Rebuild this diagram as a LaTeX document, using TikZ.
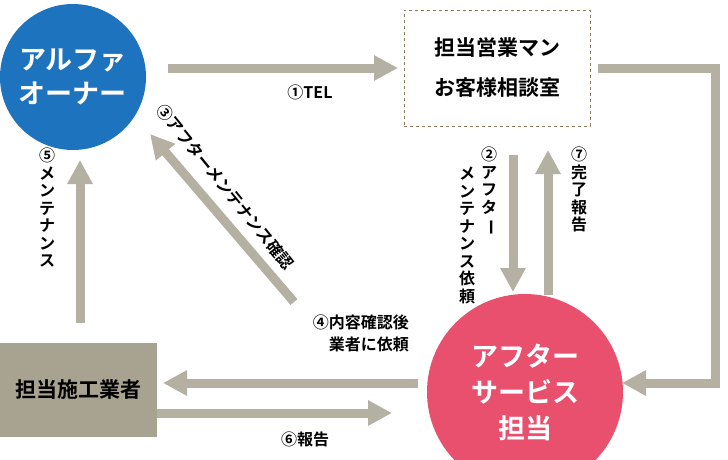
\documentclass[tikz,border=0pt]{standalone}
\usepackage{fontspec}
\newfontfamily\jp{Noto Sans CJK JP}[BoldFont={* Bold}]
\usetikzlibrary{arrows.meta,positioning}
\definecolor{arrgrey}{HTML}{B4B0A2}
\definecolor{ownerblue}{HTML}{1E73BE}
\definecolor{servpink}{HTML}{E8506E}
\definecolor{boxbrown}{HTML}{8C7A5A}
\definecolor{makergrey}{HTML}{A8A290}
\newcommand{\vbar}{\rotatebox[origin=c]{-90}{ー}}
\begin{document}
\begin{tikzpicture}[x=1pt,y=-1pt,font=\jp\bfseries,
	arr/.style={draw=arrgrey,line width=9pt,-{Triangle[width=24pt,length=24pt]}},
	lbl/.style={font=\jp\bfseries\fontsize{16}{18}\selectfont,inner sep=1pt},
	vlbl/.style={lbl,align=center,font=\jp\bfseries\fontsize{16}{17.5}\selectfont}]
	\useasboundingbox (0,0) rectangle (728,459);
	% nodes
	\node[circle,fill=ownerblue,minimum size=146pt,text=white,align=center,
		font=\jp\bfseries\fontsize{27}{34}\selectfont] (owner) at (73,77) {アルファ\\オーナー};
	\node[draw=boxbrown,dashed,line width=1pt,minimum width=186pt,minimum height=116pt,align=center,
		font=\jp\bfseries\fontsize{21}{40}\selectfont] (sales) at (497,68) {担当営業マン\\お客様相談室};
	\node[circle,fill=servpink,minimum size=196pt,text=white,align=center,
		font=\jp\bfseries\fontsize{27}{36}\selectfont] (serv) at (525,392) {アフター\\サービス\\担当};
	\node[fill=makergrey,minimum width=157pt,minimum height=94pt,
		font=\jp\bfseries\fontsize{21}{25}\selectfont] (maker) at (78.5,390) {担当施工業者};
	% arrow ends
	\coordinate (t1a) at (168,68);  \coordinate (t1b) at (398,68);
	\coordinate (r1) at (598,68);   \coordinate (r2) at (715,68);
	\coordinate (r3) at (715,383);  \coordinate (r4) at (622,383);
	\coordinate (d2a) at (513,155); \coordinate (d2b) at (513,292);
	\coordinate (u7a) at (548,295); \coordinate (u7b) at (548,150);
	\coordinate (c3a) at (294,302); \coordinate (c3b) at (150,134);
	\coordinate (u5a) at (80,323);  \coordinate (u5b) at (80,160);
	\coordinate (l4a) at (418,383); \coordinate (l4b) at (163,383);
	\coordinate (r6a) at (157,413); \coordinate (r6b) at (392,413);
	% arrows
	\draw[arr] (t1a) -- (t1b);
	\draw[arr] (d2a) -- (d2b);
	\draw[arr] (u7a) -- (u7b);
	\draw[arr] (c3a) -- (c3b);
	\draw[arr] (u5a) -- (u5b);
	\draw[arr] (l4a) -- (l4b);
	\draw[arr] (r6a) -- (r6b);
	\draw[arr] (r1) -- (r2) -- (r3) -- (r4);
	% labels
	\node[lbl] (n1) at (310,92) {①TEL};
	\node[vlbl,anchor=north] (n2a) at (489,146) {②\\ア\\フ\\タ\\\vbar};
	\node[vlbl,anchor=north] (n2b) at (467,166) {メ\\ン\\テ\\ナ\\ン\\ス\\依\\頼};
	\node[lbl,rotate=-51,anchor=north west] (n3) at (166,100) {③アフターメンテナンス確認};
	\node[vlbl,anchor=north] (n5) at (47,147) {⑤\\メ\\ン\\テ\\ナ\\ン\\ス};
	\node[vlbl,anchor=north] (n7) at (579,146) {⑦\\完\\了\\報\\告};
	\node[lbl,align=right,anchor=north east,font=\jp\bfseries\fontsize{16}{22}\selectfont] (n4) at (410,314) {④内容確認後\\業者に依頼};
	\node[lbl] (n6) at (305,439) {⑥報告};
\end{tikzpicture}
\end{document}
